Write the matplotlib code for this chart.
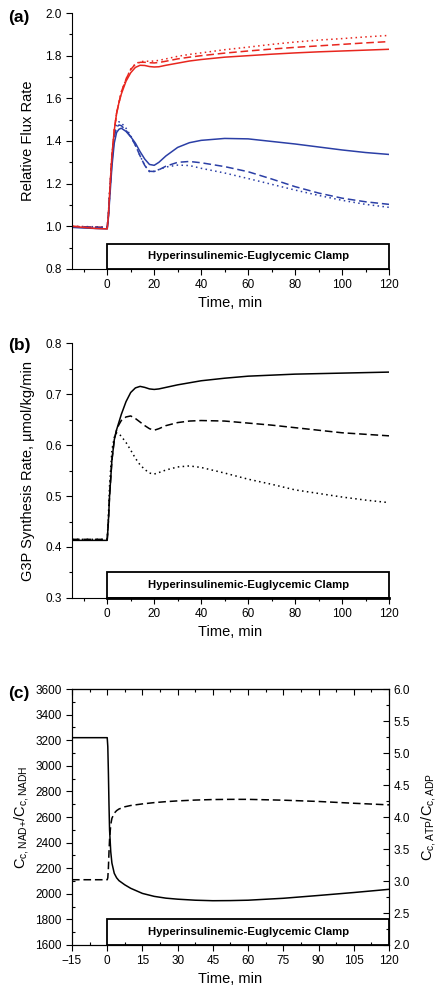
import numpy as np
import matplotlib
matplotlib.use("Agg")
import matplotlib.pyplot as plt
from matplotlib.patches import Rectangle
from matplotlib.ticker import MultipleLocator, NullFormatter

plt.rcParams['font.family'] = ['Liberation Sans', 'DejaVu Sans']
plt.rcParams['mathtext.fontset'] = 'custom'
plt.rcParams['mathtext.rm'] = 'Liberation Sans'

RED = '#e8261e'
BLUE = '#2b3fa6'
DOT = (0, (1, 2.2))
DASH = (0, (5, 2.5))

# ---- panel (a): relative flux rates ----
t_ab = [-15, -10, -5, 0, 0.5, 1, 2, 3, 4, 5, 6, 8, 10, 12, 14, 16, 18, 20, 22, 25,
        30, 35, 40, 50, 60, 70, 80, 90, 100, 110, 120]

red_solid = [1.0, 0.995, 0.99, 0.988, 1.05, 1.15, 1.33, 1.45, 1.53, 1.58, 1.62, 1.68,
             1.72, 1.745, 1.755, 1.754, 1.749, 1.747, 1.748, 1.755, 1.765, 1.775, 1.782,
             1.793, 1.80, 1.807, 1.813, 1.818, 1.822, 1.826, 1.83]
red_dashed = [1.0, 0.998, 0.997, 0.995, 1.05, 1.15, 1.33, 1.45, 1.53, 1.58, 1.63, 1.69,
              1.735, 1.76, 1.769, 1.769, 1.767, 1.766, 1.768, 1.774, 1.785, 1.793, 1.80,
              1.812, 1.822, 1.831, 1.839, 1.846, 1.853, 1.86, 1.866]
red_dotted = [1.0, 0.999, 0.998, 0.996, 1.05, 1.15, 1.33, 1.45, 1.53, 1.58, 1.63, 1.69,
              1.737, 1.762, 1.772, 1.774, 1.774, 1.775, 1.778, 1.785, 1.797, 1.806, 1.813,
              1.828, 1.84, 1.853, 1.864, 1.873, 1.88, 1.888, 1.895]
blue_solid = [0.995, 0.992, 0.99, 0.988, 1.04, 1.12, 1.28, 1.39, 1.44, 1.455, 1.46, 1.445,
              1.42, 1.39, 1.35, 1.315, 1.29, 1.286, 1.30, 1.33, 1.37, 1.392, 1.403,
              1.412, 1.41, 1.398, 1.386, 1.372, 1.358, 1.346, 1.337]
blue_dashed = [0.998, 0.996, 0.995, 0.993, 1.05, 1.14, 1.30, 1.42, 1.465, 1.475, 1.472, 1.45,
               1.42, 1.38, 1.33, 1.285, 1.258, 1.257, 1.265, 1.282, 1.30, 1.304, 1.298,
               1.28, 1.256, 1.222, 1.186, 1.156, 1.132, 1.115, 1.103]
blue_dotted = [0.999, 0.998, 0.997, 0.995, 1.06, 1.16, 1.32, 1.44, 1.48, 1.49, 1.485, 1.46,
               1.425, 1.38, 1.33, 1.285, 1.256, 1.258, 1.266, 1.278, 1.287, 1.285, 1.272,
               1.25, 1.224, 1.197, 1.17, 1.145, 1.122, 1.103, 1.089]

# ---- panel (b): G3P synthesis rate ----
g3p_solid = [0.413, 0.413, 0.413, 0.413, 0.45, 0.50, 0.57, 0.61, 0.63, 0.645, 0.66, 0.685,
             0.703, 0.712, 0.715, 0.713, 0.71, 0.709, 0.71, 0.713, 0.718, 0.722, 0.726,
             0.731, 0.735, 0.737, 0.739, 0.74, 0.741, 0.742, 0.743]
g3p_dashed = [0.415, 0.415, 0.415, 0.415, 0.45, 0.50, 0.57, 0.61, 0.63, 0.64, 0.648, 0.655,
              0.657, 0.652, 0.645, 0.638, 0.632, 0.629, 0.632, 0.638, 0.644, 0.647, 0.648,
              0.647, 0.643, 0.639, 0.634, 0.629, 0.624, 0.621, 0.618]
g3p_dotted = [0.415, 0.415, 0.415, 0.415, 0.46, 0.52, 0.59, 0.615, 0.624, 0.622, 0.617, 0.605,
              0.59, 0.574, 0.561, 0.552, 0.545, 0.543, 0.546, 0.551, 0.557, 0.559, 0.556,
              0.545, 0.533, 0.523, 0.512, 0.505, 0.498, 0.492, 0.487]

# ---- panel (c): redox / energy ratios ----
t_c = [-15, -10, -5, 0, 0.25, 0.5, 0.75, 1, 1.5, 2, 3, 4, 5, 7.5, 10, 15, 20, 25, 30,
       37.5, 45, 52.5, 60, 75, 90, 105, 120]
nad_ratio = [3220, 3220, 3220, 3220, 3150, 2950, 2700, 2500, 2330, 2240, 2160, 2125, 2103,
             2070, 2043, 2003, 1980, 1966, 1958, 1950, 1946, 1947, 1950, 1965, 1987, 2010, 2035]
atp_ratio = [3.02, 3.02, 3.02, 3.02, 3.05, 3.2, 3.45, 3.65, 3.88, 3.98, 4.06, 4.10, 4.125,
             4.16, 4.18, 4.205, 4.225, 4.24, 4.252, 4.265, 4.273, 4.276, 4.276, 4.263,
             4.243, 4.215, 4.19]

CLAMP = 'Hyperinsulinemic-Euglycemic Clamp'
TICK_FS = 8.5
LAB_FS = 10.5


def clamp_box(ax, y0, y1):
    ax.add_patch(Rectangle((0, y0), 120, y1 - y0, fill=False, ec='black', lw=1.3,
                           zorder=3, clip_on=False))
    ax.text(60, (y0 + y1) / 2, CLAMP, ha='center', va='center', fontsize=8.2,
            fontweight='bold')


def style_open(ax):
    ax.spines['top'].set_visible(False)
    ax.spines['right'].set_visible(False)
    ax.tick_params(which='both', direction='out', labelsize=TICK_FS, width=0.8)
    ax.tick_params(which='major', length=4)
    ax.tick_params(which='minor', length=2.5)


fig = plt.figure(figsize=(4.48, 9.94), dpi=100)
L, W = 0.1607, 0.7076
lw = 1.1

# (a)
ax1 = fig.add_axes([L, 0.7294, W, 0.2575])
ax1.plot(t_ab, red_dotted, color=RED, lw=lw, ls=DOT)
ax1.plot(t_ab, red_dashed, color=RED, lw=lw, ls=DASH)
ax1.plot(t_ab, blue_dotted, color=BLUE, lw=lw, ls=DOT)
ax1.plot(t_ab, blue_dashed, color=BLUE, lw=lw, ls=DASH)
ax1.plot(t_ab, blue_solid, color=BLUE, lw=lw)
ax1.plot(t_ab, red_solid, color=RED, lw=lw)
ax1.set_xlim(-15, 120)
ax1.set_ylim(0.8, 2.0)
ax1.xaxis.set_major_locator(MultipleLocator(20))
ax1.xaxis.set_minor_locator(MultipleLocator(10))
ax1.yaxis.set_major_locator(MultipleLocator(0.2))
ax1.yaxis.set_minor_locator(MultipleLocator(0.1))
ax1.yaxis.set_major_formatter(plt.FormatStrFormatter('%.1f'))
style_open(ax1)
clamp_box(ax1, 0.8, 0.917)
ax1.set_xlabel('Time, min', fontsize=LAB_FS, labelpad=3)
ax1.set_ylabel('Relative Flux Rate', fontsize=LAB_FS, labelpad=7)
fig.text(0.018, 0.982, '(a)', fontsize=12.5, fontweight='bold', va='center')

# (b)
ax2 = fig.add_axes([L, 0.3984, W, 0.2565])
ax2.plot(t_ab, g3p_dotted, color='black', lw=lw, ls=DOT)
ax2.plot(t_ab, g3p_dashed, color='black', lw=lw, ls=DASH)
ax2.plot(t_ab, g3p_solid, color='black', lw=lw)
ax2.set_xlim(-15, 120)
ax2.set_ylim(0.3, 0.8)
ax2.xaxis.set_major_locator(MultipleLocator(20))
ax2.xaxis.set_minor_locator(MultipleLocator(10))
ax2.yaxis.set_major_locator(MultipleLocator(0.1))
ax2.yaxis.set_minor_locator(MultipleLocator(0.05))
ax2.yaxis.set_major_formatter(plt.FormatStrFormatter('%.1f'))
style_open(ax2)
clamp_box(ax2, 0.3, 0.35)
ax2.plot([0, 120], [0.3, 0.3], color='black', lw=2.0, clip_on=False, zorder=4)
ax2.set_xlabel('Time, min', fontsize=LAB_FS, labelpad=3)
ax2.set_ylabel('G3P Synthesis Rate, µmol/kg/min', fontsize=LAB_FS, labelpad=7)
fig.text(0.018, 0.652, '(b)', fontsize=12.5, fontweight='bold', va='center')

# (c)
ax3 = fig.add_axes([L, 0.0493, W, 0.2575])
ax3.plot(t_c, nad_ratio, color='black', lw=lw)
ax3.set_xlim(-15, 120)
ax3.set_ylim(1600, 3600)
ax3.xaxis.set_major_locator(MultipleLocator(15))
ax3.xaxis.set_minor_locator(MultipleLocator(7.5))
ax3.yaxis.set_major_locator(MultipleLocator(200))
ax3.yaxis.set_minor_locator(MultipleLocator(100))
ax3.tick_params(which='both', labelsize=TICK_FS, width=0.8)
ax3.tick_params(which='major', direction='out', length=4)
ax3.tick_params(which='minor', direction='in', length=2.5)
clamp_box(ax3, 1600, 1800)
ax3.set_xlabel('Time, min', fontsize=LAB_FS, labelpad=3)
ax3.set_ylabel(r'$\mathregular{C_{c,NAD{+}}/C_{c,NADH}}$', fontsize=10.5, labelpad=3)

top = ax3.secondary_xaxis('top')
top.xaxis.set_major_locator(MultipleLocator(15))
top.xaxis.set_minor_locator(MultipleLocator(7.5))
top.xaxis.set_major_formatter(NullFormatter())
top.tick_params(which='both', direction='in', width=0.8)
top.tick_params(which='major', length=4)
top.tick_params(which='minor', length=2.5)

ax3r = ax3.twinx()
ax3r.plot(t_c, atp_ratio, color='black', lw=lw, ls=DASH)
ax3r.set_ylim(2.0, 6.0)
ax3r.yaxis.set_major_locator(MultipleLocator(0.5))
ax3r.yaxis.set_minor_locator(MultipleLocator(0.25))
ax3r.yaxis.set_major_formatter(plt.FormatStrFormatter('%.1f'))
ax3r.tick_params(which='both', direction='in', labelsize=TICK_FS, width=0.8)
ax3r.tick_params(which='major', length=4)
ax3r.tick_params(which='minor', length=2.5)
ax3r.set_ylabel(r'$\mathregular{C_{c,ATP}/C_{c,ADP}}$', fontsize=10.5, labelpad=6)
fig.text(0.018, 0.302, '(c)', fontsize=12.5, fontweight='bold', va='center')

fig.savefig('out.png', dpi=100)
